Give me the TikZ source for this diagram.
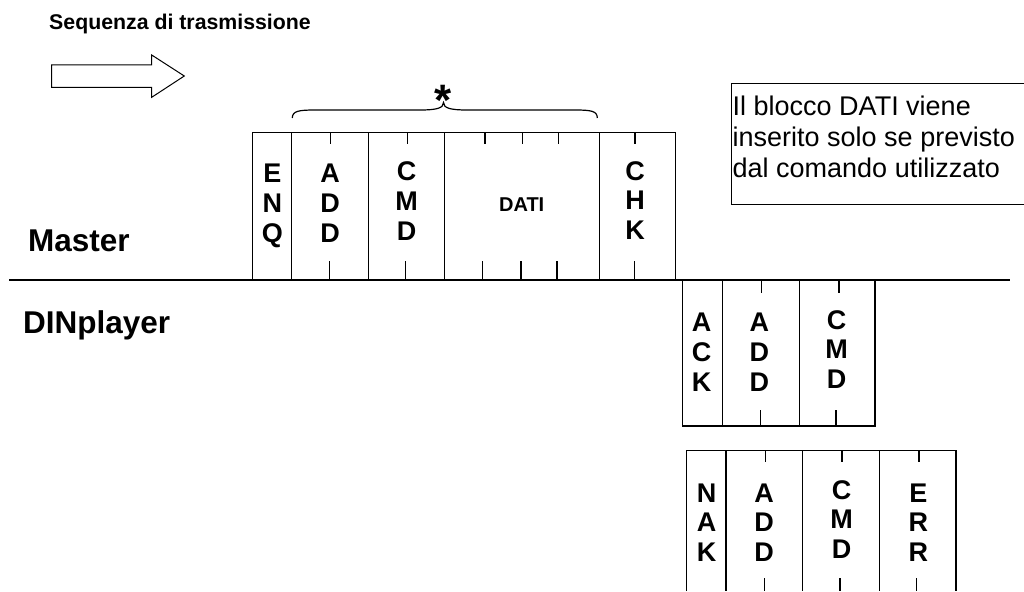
\documentclass[tikz,border=0pt]{standalone}
\usepackage{fontspec}
\setmainfont{Liberation Sans}
\begin{document}
\begin{tikzpicture}[x=1pt,y=-1pt,
  frame/.style={line width=1.2pt},
  tick/.style={line width=1.2pt},
  letters/.style={font=\fontsize{27}{29.7}\selectfont\bfseries, align=center, inner sep=0pt, anchor=north},
  lbl/.style={font=\fontsize{31.5}{36}\selectfont\bfseries, inner sep=0pt, anchor=base west}]
\useasboundingbox (0,0) rectangle (1024,591);

% title and arrow
\node[anchor=base west, inner sep=0pt, font=\fontsize{21.3}{24}\selectfont\bfseries] (title) at (49,30) {Sequenza di trasmissione};
\draw[line width=1pt] (51.7,65) -- (151.7,65) -- (151.7,55) -- (184.3,76) -- (151.7,97.3) -- (151.7,87.3) -- (51.7,87.3) -- cycle;

% labels
\node[lbl] (master) at (28,251.7) {Master};
\node[lbl] (dinplayer) at (23,333.3) {DINplayer};

% baseline
\draw[line width=2pt] (9,279.5) -- (1010,279.5);

% brace and star
\draw[line width=1.2pt] (292.3,118) .. controls (292.3,111) and (299,110) .. (315,110) -- (420,110)
  .. controls (437,110) and (443.5,108) .. (443.5,102.5)
  .. controls (443.5,108) and (450,110) .. (467,110) -- (575,110)
  .. controls (591,110) and (597.3,111) .. (597.3,118);
\node[inner sep=0pt, anchor=base, font=\fontsize{44}{44}\selectfont\bfseries] (star) at (443.5,115.5) {*};

% master frame
\draw[frame] (252.3,132.7) rectangle (675.7,279.5);
\foreach \x in {291.7,368.3,444.7,599.3} \draw[frame] (\x,132.7) -- (\x,279.5);
\foreach \x in {330.7,407.7,485,522.7,558.3,635} \draw[tick] (\x,132.7) -- (\x,144);
\foreach \x in {329.7,405.7,482.7,521,557,634.3} \draw[tick] (\x,261) -- (\x,279.5);
\node[letters] (enq) at (272.3,164) {E\\N\\Q};
\node[letters] (madd) at (330,164) {A\\D\\D};
\node[letters] (mcmd) at (406.7,161.7) {C\\M\\D};
\node[letters, font=\fontsize{20}{22}\selectfont\bfseries] (dati) at (521.7,198) {DATI};
\node[letters] (chk) at (635,161) {C\\H\\K};

% ACK frame
\draw[frame] (682.7,279.5) rectangle (875,426);
\foreach \x in {722.7,799.3} \draw[frame] (\x,279.5) -- (\x,426);
\foreach \x in {761.7,839} \draw[tick] (\x,281) -- (\x,292.7);
\foreach \x in {760.7,836} \draw[tick] (\x,410) -- (\x,426);
\node[letters] (ack) at (701.7,313) {A\\C\\K};
\node[letters] (aadd) at (759.3,313) {A\\D\\D};
\node[letters] (acmd) at (836.7,310) {C\\M\\D};

% NAK frame
\draw[frame] (686.7,591) -- (686.7,450.3) -- (956,450.3) -- (956,591);
\foreach \x in {726,802.7,879.3} \draw[frame] (\x,450.3) -- (\x,591);
\foreach \x in {765.3,842,919} \draw[tick] (\x,450.3) -- (\x,461.7);
\foreach \x in {764.3,840,916.7} \draw[tick] (\x,578) -- (\x,591);
\node[letters] (nak) at (706.7,483.3) {N\\A\\K};
\node[letters] (nadd) at (764,483.3) {A\\D\\D};
\node[letters] (ncmd) at (841.7,480) {C\\M\\D};
\node[letters] (err) at (918.3,483.3) {E\\R\\R};

% note box
\draw[line width=1pt] (1030,83.3) -- (731.7,83.3) -- (731.7,204.3) -- (1030,204.3);
\node[anchor=north west, align=left, inner sep=0pt, font=\fontsize{27}{31}\selectfont] (note) at (732.5,95.6) {Il blocco DATI viene\\inserito solo se previsto\\dal comando utilizzato};
\end{tikzpicture}
\end{document}
